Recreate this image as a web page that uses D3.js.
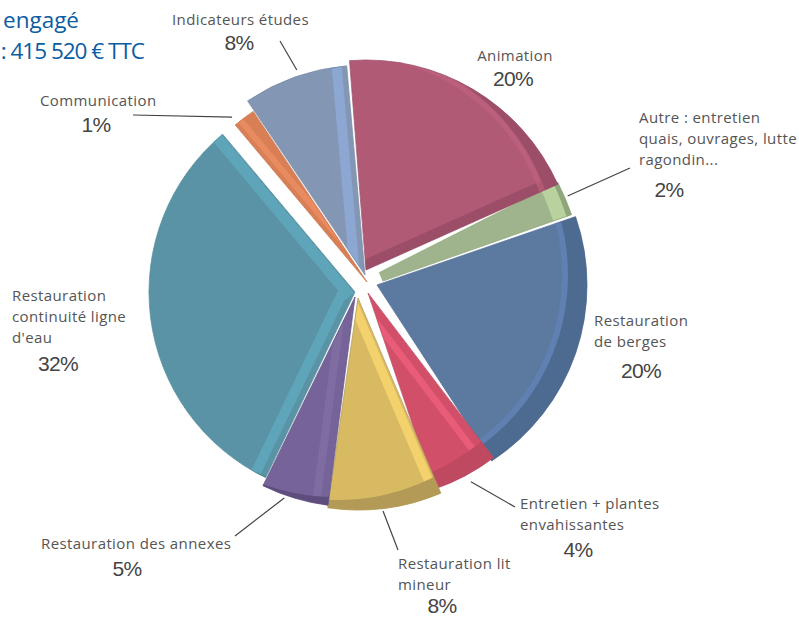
<!DOCTYPE html>
<meta charset="utf-8">
<style>
  html, body { margin: 0; background: #fff; }
  svg { display: block; }
  text { font-family: "Open Sans", sans-serif; }
  text.pct { font-family: "Liberation Sans", sans-serif; }
</style>
<body></body>
<script src="https://d3js.org/d3.v7.min.js"></script>
<script>

const width = 799, height = 618;

// data, clockwise from the top of the pie
const categories = ["Animation", "Autre", "Restauration de berges", "Entretien + plantes envahissantes",
  "Restauration lit mineur", "Restauration des annexes", "Restauration continuité ligne d'eau",
  "Communication", "Indicateurs études"];
const values = [20, 2, 20, 4, 8, 5, 32, 1, 8];

// label lines, one list per category
const labelLines = [["Animation"], ["Autre : entretien", "quais, ouvrages, lutte", "ragondin..."],
  ["Restauration", "de berges"], ["Entretien + plantes", "envahissantes"], ["Restauration lit", "mineur"],
  ["Restauration des annexes"], ["Restauration", "continuité ligne", "d'eau"], ["Communication"], ["Indicateurs études"]];

// colours: face, light bevel, dark rim
const faceColors = ["#b05a76", "#9fb48c", "#5b79a0", "#d24f69", "#d8ba64", "#75649a", "#5a92a6", "#d97f55", "#8397b5"];
const lightColors = ["#c2637f", "#b9d19c", "#5e80b0", "#e95c78", "#f3d16c", "#7f6da2", "#5fa5b9", "#e98b60", "#8ca7d2"];
const rimColors = ["#9c4e68", "#8fa67d", "#4e6a90", "#bf4860", "#b39a56", "#5e4e7e", "#4e8a98", "#c87048", "#7688a6"];

// layout of the exploded slices and the labels
const center = [360, 284];
const radius = 210;
// the thin "Autre" wedge is drawn from a point behind the others, hence its long radius and its hole
const radiusTrim = [0, 62, 0, -3, 2, 0, -4, -5, 0];
const holeRadius = [0, 72, 0, 0, 0, 0, 0, 0, 0];
const sliceOffsets = [[6, -14], [-45, 21], [17, 1], [8, 9], [-2, 14], [-5, 13], [-5, 8], [7, -2], [5, -9]];
// the drawing stretches some wedges a little, degrees added to each start and end
const angleAdjust = [[2, 0.4], [-2.3, -2.1], [-1.7, 2.2], [-2, 2.2], [-2.1, 0.3], [-0.5, 0.1], [-0.2, -1.1], [-1.1, 1.6], [1.3, 1.5]];
// bevel stripes: edge of the slice (0 start, 1 end), distance from the edge and width in px, light or rim colour
const bevels = [[1, 0, 10, "rim"], null, null, [0, 8, 7, "light"], [0, 2, 9, "light"],
  [0, 8, 8, "light"], [1, 1, 11, "light"], [0, 4, 6, "light"], [1, 5, 10, "light"]];
const bevels2 = [null, null, null, null, null, null, [0, 6, 10, "light"], null, null];
const ringOpacity = [0.6, 1, 1, 0, 0, 0, 0, 0, 0];
const ringWidth = [6, 14, 6, 0, 0, 0, 0, 0, 0];
const rimScale = [1, 0.4, 1, 1, 1, 1, 1, 1, 1];
const rimShift = [-20, -10];
const labelX = [515, 639, 594, 520, 398, 41, 12, 40, 172];
const labelY = [61, 123, 326, 509, 569, 549, 301, 106, 25];
const labelAnchor = ["middle", "start", "start", "start", "start", "start", "start", "start", "start"];
const pctX = [513, 669, 641, 578, 442, 127, 58, 96, 239];
const pctY = [86, 197, 378, 557, 613.4, 576, 371, 132, 50];
// leaders: start point seen from the centre (angle, radius past the rim), and where it stops near the label
const leaderOrigin = [null, [15, -7], null, [8, 9], [-2, 14], [-5, 13], null, [7, -2], [5, -9]];
const leaderAngle = [null, 67.2, null, 151.4, 173.3, 199.4, null, 320.7, 341.6];
const leaderGap = [null, -1, null, 5, 4.5, 3, null, 3, 6];
const leaderEnd = [null, [630, 168], null, [515, 507], [398, 550], [235, 536], null, [133, 115], [280, 41]];

const svg = d3.select("body").append("svg").attr("width", width).attr("height", height);
const defs = svg.append("defs");
defs.append("filter").attr("id", "soft").append("feGaussianBlur").attr("stdDeviation", 0.6);

const deg = Math.PI / 180;
const startAngle = -6.5 * deg;
const pie = d3.pie().sort(null).startAngle(startAngle).endAngle(startAngle + 2 * Math.PI);
const arcs = pie(values).map((d, i) => ({
  ...d,
  index: i,
  startAngle: d.startAngle + angleAdjust[i][0] * deg,
  endAngle: d.endAngle + angleAdjust[i][1] * deg
}));
const sliceRadius = d => radius + radiusTrim[d.index];
const arc = d3.arc().innerRadius(d => holeRadius[d.index]).outerRadius(sliceRadius);

const pieGroup = svg.append("g").attr("filter", "url(#soft)")
  .attr("transform", `translate(${center})`);

// "Autre" goes first so that its neighbours cover its long sides
const drawOrder = [1, 0, 2, 3, 4, 5, 6, 7, 8];
const slices = pieGroup.selectAll("g").data(drawOrder.map(i => arcs[i])).join("g")
  .attr("transform", d => `translate(${sliceOffsets[d.index]})`);

slices.append("clipPath").attr("id", d => "clip" + d.index)
  .append("path").attr("d", arc);

const inner = slices.append("g").attr("clip-path", d => `url(#clip${d.index})`);

inner.append("path").attr("d", arc).attr("fill", d => faceColors[d.index]);

// a band of constant width along one radial edge, the clip trims it to the slice
function stripe(d, b) {
  if (!b) return null;
  const [side, from, w] = b;
  const a = side ? d.endAngle : d.startAngle;
  const sign = side ? -1 : 1;
  const e = d3.pointRadial(a, sliceRadius(d) + 10);
  const n = d3.pointRadial(a + sign * Math.PI / 2, 1);
  const p = (t, k) => [t * e[0] + k * n[0], t * e[1] + k * n[1]];
  return d3.line()([p(0, from), p(1, from), p(1, from + w), p(0, from + w)]) + "Z";
}
const stripeColor = (d, b) => b && b[3] === "rim" ? rimColors[d.index] : lightColors[d.index];

inner.append("path").attr("d", d => stripe(d, bevels[d.index])).attr("fill", d => stripeColor(d, bevels[d.index]));
inner.append("path").attr("d", d => stripe(d, bevels2[d.index])).attr("fill", d => stripeColor(d, bevels2[d.index]));

// dark rim: everything outside a circle pushed up-left, so it only shows at the bottom right
function rimPath(d) {
  const r = sliceRadius(d), k = rimScale[d.index], x = rimShift[0] * k, y = rimShift[1] * k, big = r + 40;
  return `M${-big},${-big}H${big}V${big}H${-big}Z` +
    `M${x - r},${y}a${r},${r} 0 1,0 ${2 * r},0a${r},${r} 0 1,0 ${-2 * r},0Z`;
}
inner.append("path").attr("d", rimPath).attr("fill-rule", "evenodd").attr("fill", d => rimColors[d.index]);
inner.append("circle")
  .attr("cx", d => rimShift[0] * rimScale[d.index]).attr("cy", d => rimShift[1] * rimScale[d.index])
  .attr("r", d => sliceRadius(d) - ringWidth[d.index] / 2 + 1)
  .attr("fill", "none").attr("stroke", d => lightColors[d.index]).attr("stroke-width", d => ringWidth[d.index])
  .attr("opacity", d => ringOpacity[d.index]);

slices.append("path").attr("d", arc).attr("fill", "none")
  .attr("stroke", d => rimColors[d.index]).attr("stroke-width", 0.8);

// leaders
const leaders = svg.append("g").attr("stroke", "#444").attr("stroke-width", 1.2);
arcs.forEach((d, i) => {
  if (!leaderEnd[i]) return;
  const p = d3.pointRadial(leaderAngle[i] * deg, radius + leaderGap[i]);
  leaders.append("line")
    .attr("x1", center[0] + leaderOrigin[i][0] + p[0])
    .attr("y1", center[1] + leaderOrigin[i][1] + p[1])
    .attr("x2", leaderEnd[i][0]).attr("y2", leaderEnd[i][1]);
});

// labels
labelLines.forEach((lines, i) => {
  const t = svg.append("text").attr("x", labelX[i]).attr("y", labelY[i])
    .attr("text-anchor", labelAnchor[i])
    .attr("font-size", 15).attr("letter-spacing", 0.4).attr("fill", "#555");
  lines.forEach((s, k) => t.append("tspan").attr("x", labelX[i]).attr("dy", k ? 21 : 0).text(s));
  svg.append("text").attr("class", "pct").attr("x", pctX[i]).attr("y", pctY[i]).attr("text-anchor", "middle")
    .attr("font-size", 21).attr("fill", "#444").attr("letter-spacing", -0.7)
    .text(values[i] + "%");
});

// title, cut by the left edge of the picture
const titleBlue = "#0a5ca3";
svg.append("text").attr("x", 3).attr("y", 28).attr("font-size", 22.5).attr("fill", titleBlue).text("engagé");
svg.append("text").attr("x", 144).attr("y", 59).attr("text-anchor", "end").attr("font-size", 22.5)
  .attr("letter-spacing", -1).attr("fill", titleBlue).text(": 415 520 € TTC");

</script>
